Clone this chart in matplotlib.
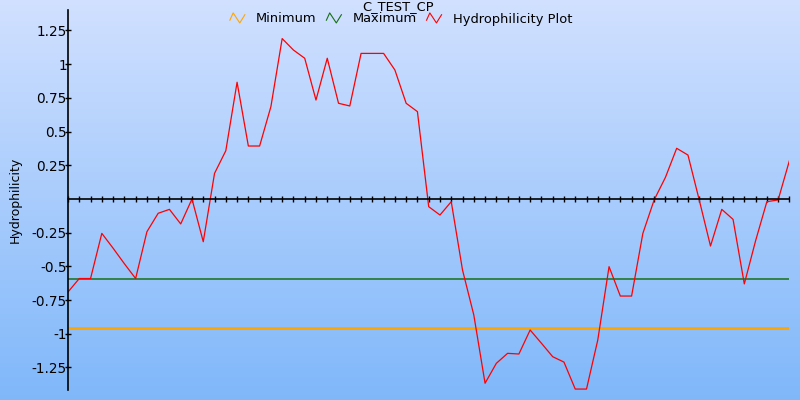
import numpy as np
import matplotlib
matplotlib.use("Agg")
import matplotlib.pyplot as plt
from matplotlib.legend_handler import HandlerBase
from matplotlib.lines import Line2D

TITULO = "C_TEST_CP"
ROTULO_Y = "Hydrophilicity"

# valores (65 posições)
hidrofilicidade = [
    -0.69, -0.59, -0.59, -0.255, -0.365, -0.48, -0.59, -0.243, -0.106, -0.077,
    -0.185, 0.0, -0.317, 0.19, 0.358, 0.866, 0.393, 0.393, 0.685, 1.19,
    1.105, 1.044, 0.734, 1.044, 0.71, 0.69, 1.08, 1.08, 1.08, 0.957,
    0.71, 0.648, -0.057, -0.119, -0.02, -0.527, -0.86, -1.367, -1.219, -1.145,
    -1.15, -0.972, -1.07, -1.17, -1.21, -1.41, -1.41, -1.046, -0.502, -0.72,
    -0.72, -0.255, -0.007, 0.16, 0.376, 0.326, -0.007, -0.349, -0.077, -0.151,
    -0.63, -0.31, -0.02, -0.007, 0.284,
]
minimo = -0.957
maximo = -0.593

yticks = [1.25, 1, 0.75, 0.5, 0.25, -0.25, -0.5, -0.75, -1, -1.25]
ytick_labels = ["1.25", "1", "0.75", "0.5", "0.25",
                "-0.25", "-0.5", "-0.75", "-1", "-1.25"]

COR_MIN = "#ffa500"
COR_MAX = "#157015"
COR_LINHA = "#ff0000"


class HandlerZigue(HandlerBase):
    """Ícone em zigue-zague para a legenda."""
    def create_artists(self, legend, orig_handle, xdescent, ydescent,
                       width, height, fontsize, trans):
        xs = np.array([0, 0.22, 0.66, 1.0]) * width - xdescent
        ys = np.array([0.25, 1.05, -0.05, 0.85]) * height - ydescent
        ln = Line2D(xs, ys, color=orig_handle.get_color(), lw=0.8)
        ln.set_transform(trans)
        return [ln]


plt.rcParams["font.family"] = "DejaVu Sans"
fig = plt.figure(figsize=(8, 4), dpi=100)

# fundo em degradê
bg = fig.add_axes([0, 0, 1, 1], zorder=-10)
topo = np.array([0.82, 0.88, 1.0])
base = np.array([0.50, 0.72, 0.98])
t = np.linspace(0, 1, 256)[:, None]
grad = (topo * (1 - t) + base * t)[:, None, :]
bg.imshow(grad, aspect="auto", extent=[0, 1, 0, 1])
bg.axis("off")

ax = fig.add_axes([68 / 800, 10 / 400, (789.4 - 68) / 800, 380 / 400])
ax.patch.set_alpha(0)

x = np.arange(len(hidrofilicidade))
ax.axhline(minimo, color=COR_MIN, lw=2, label="Minimum")
ax.axhline(maximo, color=COR_MAX, lw=1.1, label="Maximum")
ax.plot(x, hidrofilicidade, color=COR_LINHA, lw=0.9, label="Hydrophilicity Plot")

ax.set_xlim(0, len(hidrofilicidade) - 1)
ax.set_ylim(-1.417, 1.402)

for s in ["top", "right"]:
    ax.spines[s].set_visible(False)
ax.spines["bottom"].set_position(("data", 0))
ax.spines["bottom"].set_linewidth(1.2)
ax.spines["left"].set_linewidth(1.2)

ax.set_xticks(x)
ax.tick_params(axis="x", direction="inout", length=4.5, width=1, labelbottom=False)
ax.set_yticks(yticks)
ax.set_yticklabels(ytick_labels)
ax.tick_params(axis="y", direction="inout", length=4.5, width=1,
               labelsize=9.8, pad=-1.5, colors="black")

fig.text(15 / 800, 0.5, ROTULO_Y, rotation=90, ha="center", va="center",
         fontsize=9)
fig.text(398 / 800, 1.0, TITULO, ha="center", va="top", fontsize=9.4)

handles, labels = ax.get_legend_handles_labels()
fig.legend(handles, labels, loc="center", bbox_to_anchor=(401 / 800, 1 - 19 / 400),
           ncol=3, frameon=False, fontsize=9.4, handlelength=1.15,
           handletextpad=0.85, columnspacing=0.75, borderpad=0,
           handler_map={Line2D: HandlerZigue()})

fig.savefig("out.png", dpi=100)
plt.close(fig)
